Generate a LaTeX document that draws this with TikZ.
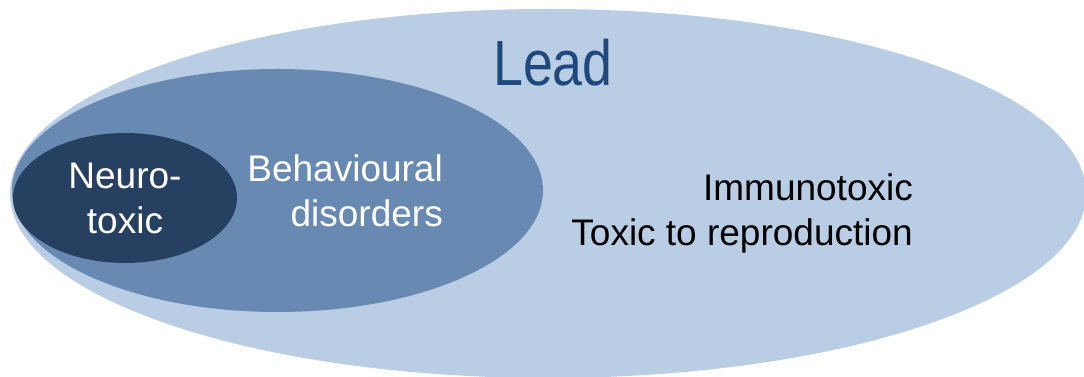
\documentclass[tikz,border=0pt]{standalone}
\usepackage{fontspec}
\setmainfont{Liberation Sans}
\usetikzlibrary{shapes.geometric}

\definecolor{leadfill}{RGB}{185, 205, 228}
\definecolor{behavfill}{RGB}{104, 137, 177}
\definecolor{neurofill}{RGB}{38, 64, 97}
\definecolor{leadtext}{RGB}{31, 73, 125}

\begin{document}
\begin{tikzpicture}[x=1pt, y=1pt,
    region/.style={ellipse, inner sep=0pt, draw=none},
    biglabel/.style={font=\fontsize{64}{70}\selectfont, text=leadtext, inner sep=0pt, xscale=0.84, transform shape},
    label/.style={font=\fontsize{37}{45}\selectfont, inner sep=0pt}
    ]

    \useasboundingbox (0,0) rectangle (1084,377);
    \clip (0,0) rectangle (1084,377);

    % Nested regions
    \node[region, fill=leadfill, minimum width=1076pt, minimum height=369pt] (lead) at (548,183.5) {};
    \node[region, fill=behavfill, minimum width=531pt, minimum height=243pt] (behav) at (277.5,186.5) {};
    \node[region, fill=neurofill, minimum width=224pt, minimum height=130pt] (neuro) at (125,179) {};

    % Labels
    \node[biglabel, anchor=base] (leadlabel) at (553,291) {Lead};
    \node[label, text=white, align=center, anchor=base] (neurolabel) at (125,143) {Neuro-\\toxic};
    \node[label, text=white, align=right, anchor=base east] (behavlabel) at (443,150) {Behavioural\\disorders};
    \node[label, text=black, align=right, anchor=base east] (otherlabel) at (913,131) {Immunotoxic\\Toxic to reproduction};
\end{tikzpicture}
\end{document}
